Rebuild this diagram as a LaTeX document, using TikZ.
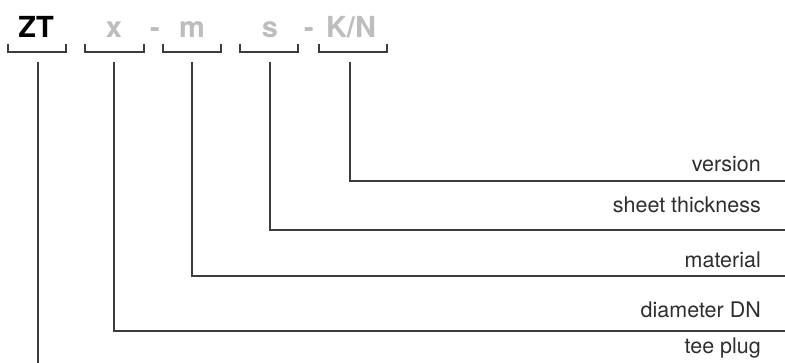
\documentclass[tikz,border=0pt]{standalone}
\usepackage{fontspec}
\setmainfont{TeX Gyre Heros}
\usepackage{tikz}
\usetikzlibrary{calc}
\usepackage{xcolor}
\definecolor{codegray}{HTML}{BDBDBD}
\definecolor{linegray}{HTML}{3C3C3C}
\definecolor{textgray}{HTML}{2E2E2E}

\begin{document}
\begin{tikzpicture}[
  x=1pt,y=-1pt,
  code/.style={anchor=base,inner sep=0pt,font=\fontsize{29}{29}\selectfont\bfseries,text=codegray},
  desc/.style={anchor=base east,inner sep=0pt,font=\fontsize{21.5}{21.5}\selectfont,text=textgray},
  brk/.style={draw=linegray,line width=1.1pt},
  link/.style={draw=linegray,line width=1.1pt}
]
\useasboundingbox (0,0) rectangle (785,363);
% type code
\node[code,text=black] (zt) at (36,38) {ZT};
\node[code] (dia) at (114,38) {x};
\node[code] (d1) at (155,38) {-};
\node[code] (mat) at (192,38) {m};
\node[code] (sht) at (270,38) {s};
\node[code] (d2) at (309,38) {-};
\node[code] (ver) at (351,38) {K/N};
% brackets
\draw[brk] (8,44) |- (66,52) -- (66,44);
\draw[brk] (85,44) |- (144,52) -- (144,44);
\draw[brk] (163,44) |- (221,52) -- (221,44);
\draw[brk] (240,44) |- (298,52) -- (298,44);
\draw[brk] (319,44) |- (387,52) -- (387,44);
% descriptions
\node[desc] (tver) at (761,172) {version};
\node[desc] (tsht) at (761,213) {sheet thickness};
\node[desc] (tmat) at (761,268) {material};
\node[desc] (tdia) at (761,318) {diameter DN};
\node[desc] (tzt) at (761,354) {tee plug};
\coordinate (ever) at (785,181);
\coordinate (esht) at (785,230);
\coordinate (emat) at (785,276);
\coordinate (edia) at (785,331);
\coordinate (ezt) at (38,363);
% leaders
\draw[link] ($(ver.base)+(-1,24)$) |- (ever);
\draw[link] ($(sht.base)+(0,24)$) |- (esht);
\draw[link] ($(mat.base)+(0,24)$) |- (emat);
\draw[link] ($(dia.base)+(0,24)$) |- (edia);
\draw[link] ($(zt.base)+(2,24)$) -- (ezt);
\end{tikzpicture}
\end{document}
